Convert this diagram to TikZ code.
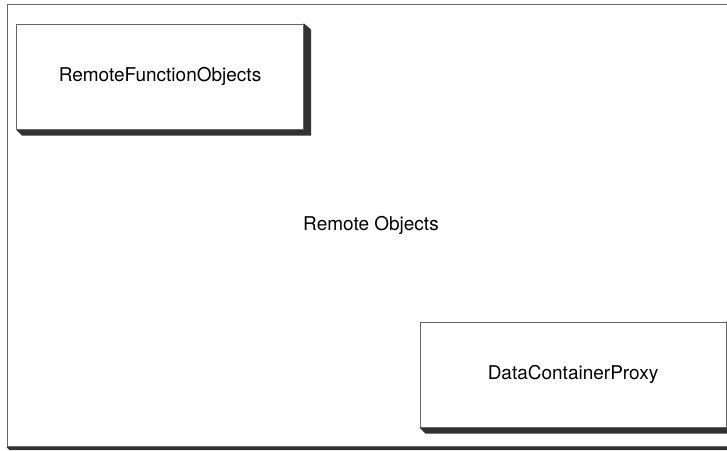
\documentclass[tikz,border=0pt]{standalone}
\usepackage{fontspec}
\setmainfont{TeX Gyre Heros}
\usetikzlibrary{backgrounds,calc}
\tikzset{
  objbox/.style={draw=black!60, fill=white, line width=1pt, inner sep=0pt,
    font=\fontsize{19}{23}\selectfont, rectangle},
  shadowfill/.style={fill=black!80, draw=none}
}
\begin{document}
\begin{tikzpicture}[x=1pt,y=-1pt]
\useasboundingbox (0,0) rectangle (727,450);
% outer container
\node[objbox, fill=none, minimum width=728pt, minimum height=442pt] (outer) at (371,225.5) {Remote Objects};
% inner objects
\node[objbox, minimum width=287pt, minimum height=105pt] (rfo) at (160,76.5) {RemoteFunctionObjects};
\node[objbox, minimum width=306pt, minimum height=105pt] (dcp) at (573,374.5) {DataContainerProxy};
\begin{scope}[on background layer]
  \fill[white] (0,0) rectangle (727,450);
  \fill[shadowfill] (outer.south west) -- ++(3,3) -- ($(outer.south east)+(3,3)$) -- ($(outer.north east)+(3,3)$) -- (outer.north east) -- cycle;
  \fill[white] (outer.north west) rectangle (outer.south east);
  \fill[shadowfill] (rfo.south west) -- ++(6,6) -- ($(rfo.south east)+(7,6)$) -- ($(rfo.north east)+(7,6)$) -- (rfo.north east) -- cycle;
  \fill[shadowfill] (dcp.south west) -- ++(6,6) -- ($(dcp.south east)+(7,6)$) -- ($(dcp.north east)+(7,6)$) -- (dcp.north east) -- cycle;
\end{scope}
\end{tikzpicture}
\end{document}
